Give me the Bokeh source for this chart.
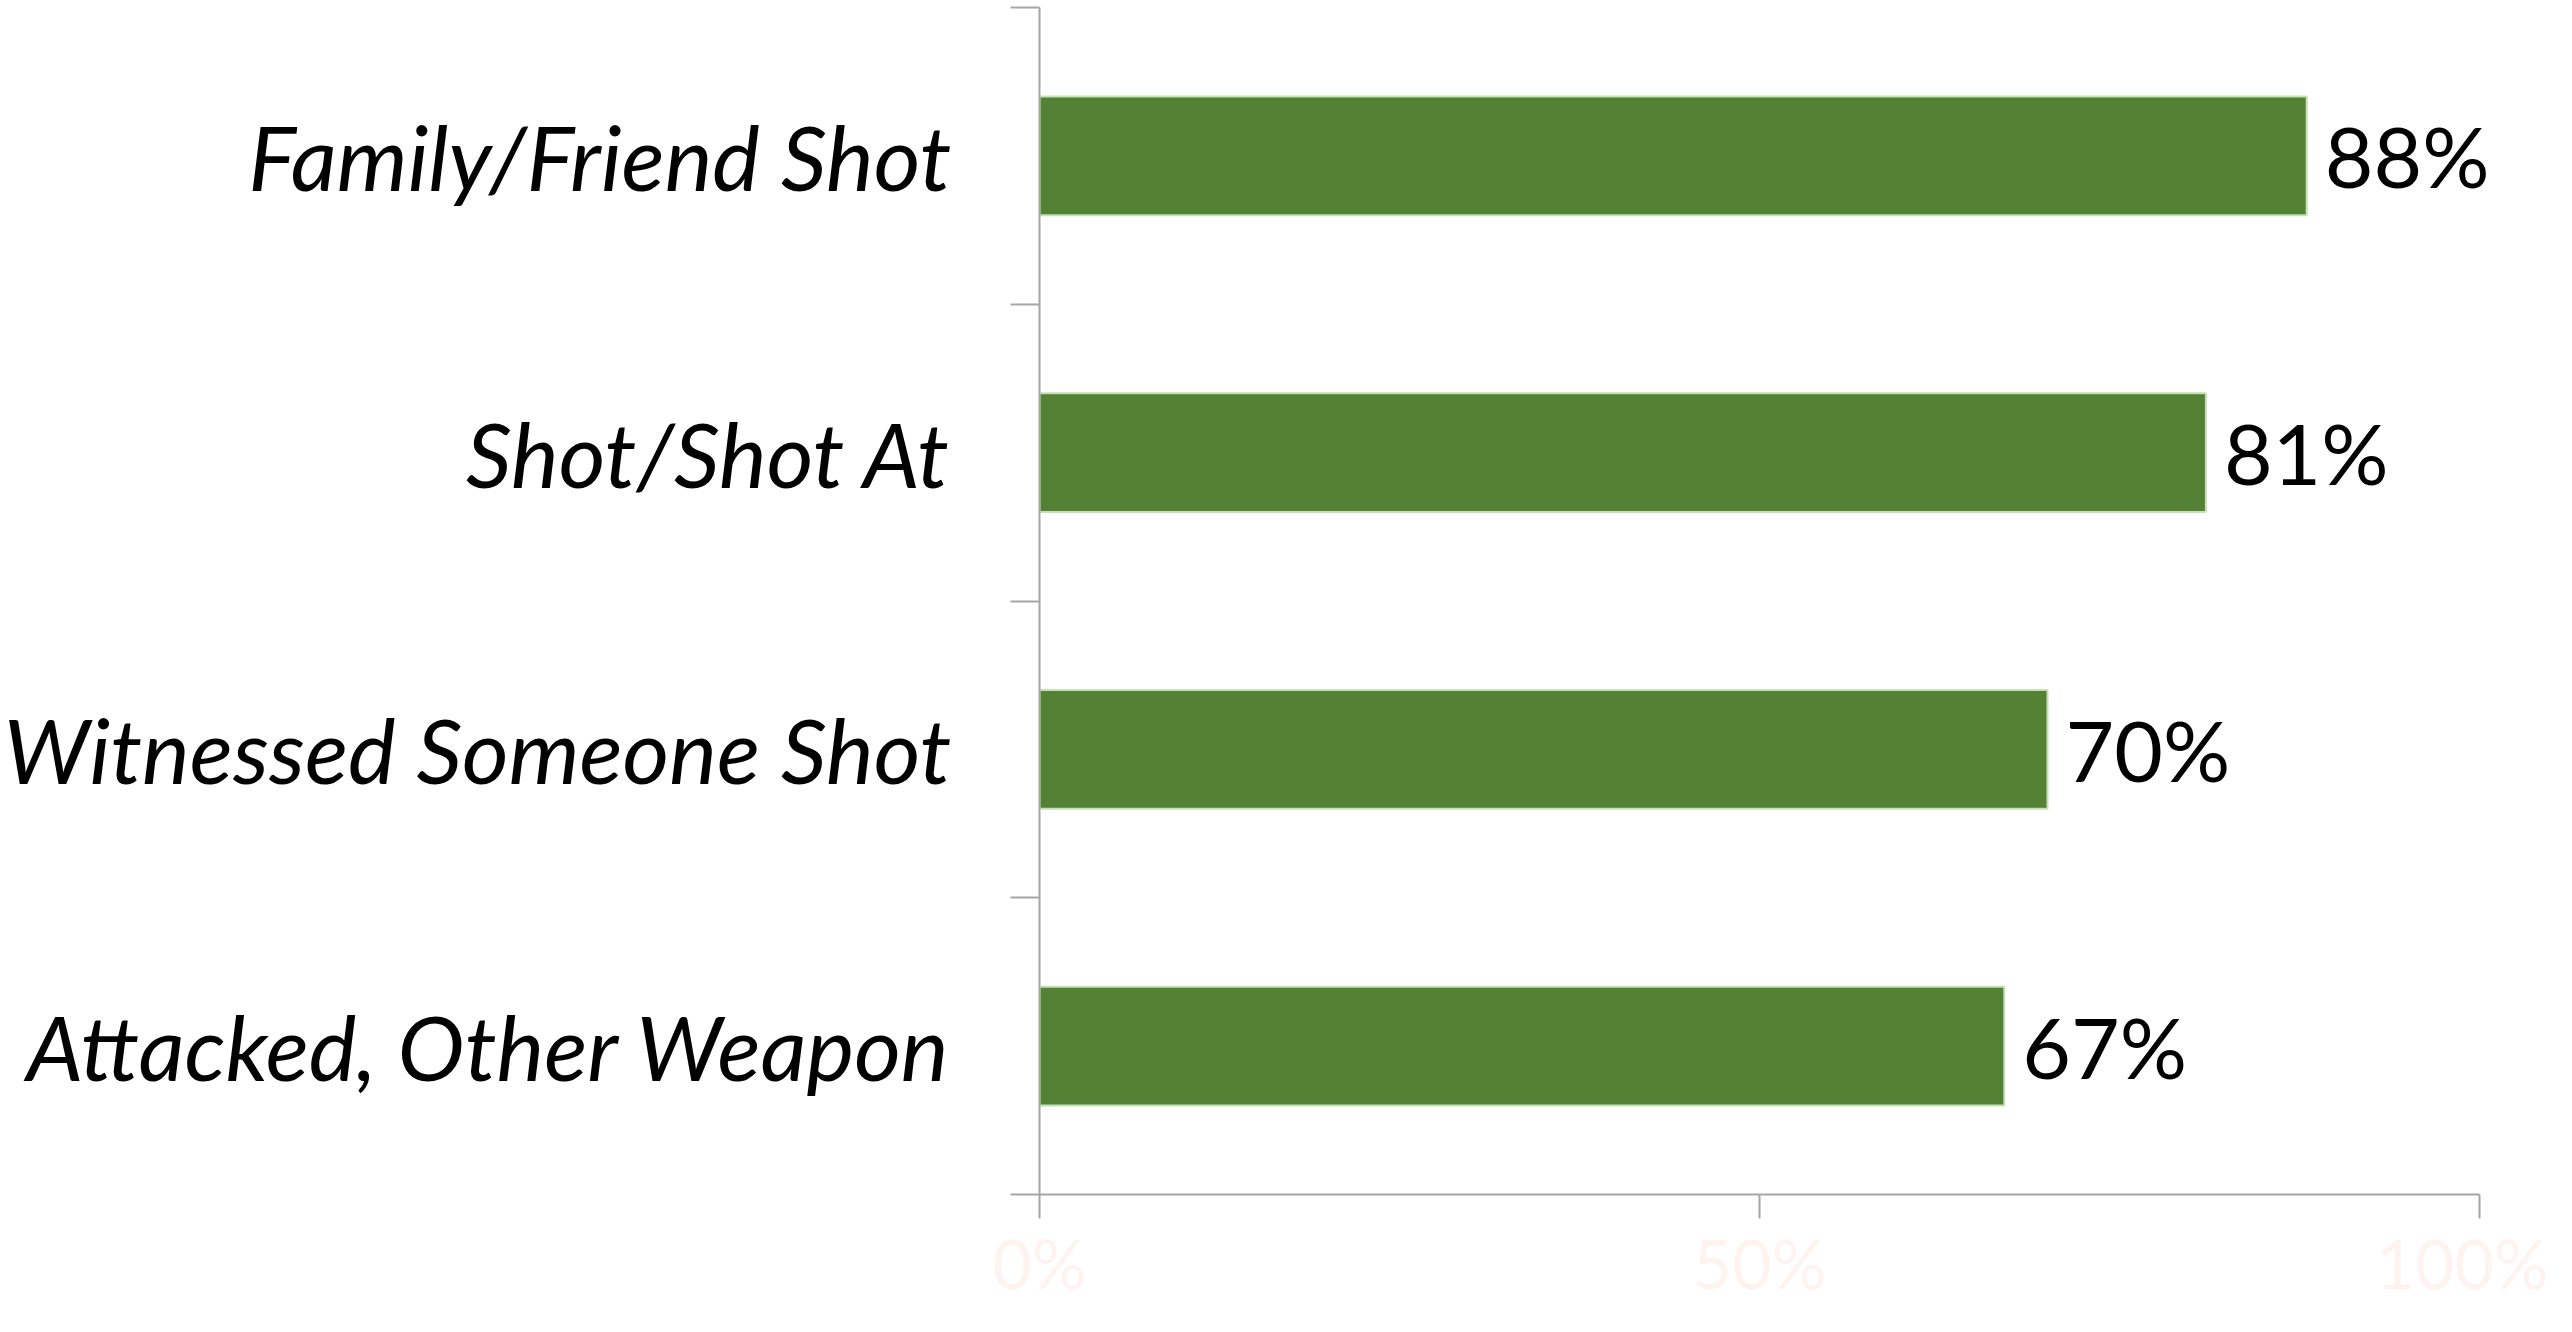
from bokeh.plotting import figure
from bokeh.models import Range1d, FixedTicker, ColumnDataSource
from bokeh.embed import file_html
from bokeh.resources import INLINE
from bokeh.core.properties import value

# ---- data ----
categories = ["Family/Friend Shot", "Shot/Shot At", "Witnessed Someone Shot", "Attacked, Other Weapon"]
percent_values = [88, 81, 70, 67]
x_tick_values = [0, 50, 100]
x_tick_labels = ["0%", "50%", "100%"]

n = len(categories)
ypos = [n - i - 0.5 for i in range(n)]
labels = [f"{v}%" for v in percent_values]

src = ColumnDataSource(dict(y=ypos, v=percent_values, lab=labels, cat=categories))

FONT = "Lato"

LEFT, TOP = 1031, 7
FRAME_W, FRAME_H = 1501, 1187
px_per_unit = 14.4  # 100% spans 1440 px
x_max = FRAME_W / px_per_unit

p = figure(frame_width=FRAME_W, frame_height=FRAME_H, output_backend="svg", toolbar_location=None,
           x_range=Range1d(0, x_max), y_range=Range1d(0, n),
           min_border_left=LEFT, min_border_right=8, min_border_top=TOP, min_border_bottom=10)
p.outline_line_color = None
p.xgrid.visible = False
p.ygrid.visible = False
p.background_fill_color = "white"
p.border_fill_color = "white"

p.hbar(y="y", right="v", left=0, height=0.4, source=src,
       fill_color="#548235", line_color="#C5E0B4", line_width=2)

p.text(x="v", y="y", text="lab", source=src, x_offset=18,
       text_align="left", text_baseline="middle",
       text_font=value(FONT), text_font_size="84px", text_color="black")

# x axis
xa = p.xaxis[0]
xa.bounds = (0, 100)
xa.ticker = FixedTicker(ticks=x_tick_values, minor_ticks=[])
xa.major_label_overrides = {t: l for t, l in zip(x_tick_values, x_tick_labels)}
xa.axis_line_color = "#A6A6A6"
xa.axis_line_width = 2
xa.major_tick_line_color = "#A6A6A6"
xa.major_tick_line_width = 2
xa.major_tick_out = 24
xa.major_tick_in = 0
xa.minor_tick_line_color = None
xa.major_label_text_color = "#FFF3EF"
xa.major_label_text_font = FONT
xa.major_label_text_font_size = "68px"
xa.major_label_text_line_height = 1.0
xa.major_label_standoff = 3

# y axis
ya = p.yaxis[0]
ya.ticker = FixedTicker(ticks=ypos, minor_ticks=list(range(n + 1)))
ya.major_label_overrides = {y: c for y, c in zip(ypos, categories)}
ya.axis_line_color = "#A6A6A6"
ya.axis_line_width = 2
ya.major_tick_line_color = None
ya.major_tick_out = 0
ya.major_tick_in = 0
ya.minor_tick_line_color = "#A6A6A6"
ya.minor_tick_line_width = 2
ya.minor_tick_out = 29
ya.minor_tick_in = 0
ya.major_label_text_color = "black"
ya.major_label_text_font = FONT
ya.major_label_text_font_style = "italic"
ya.major_label_text_font_size = "90px"
ya.major_label_standoff = 59

open("out.html", "w").write(file_html(p, INLINE))
